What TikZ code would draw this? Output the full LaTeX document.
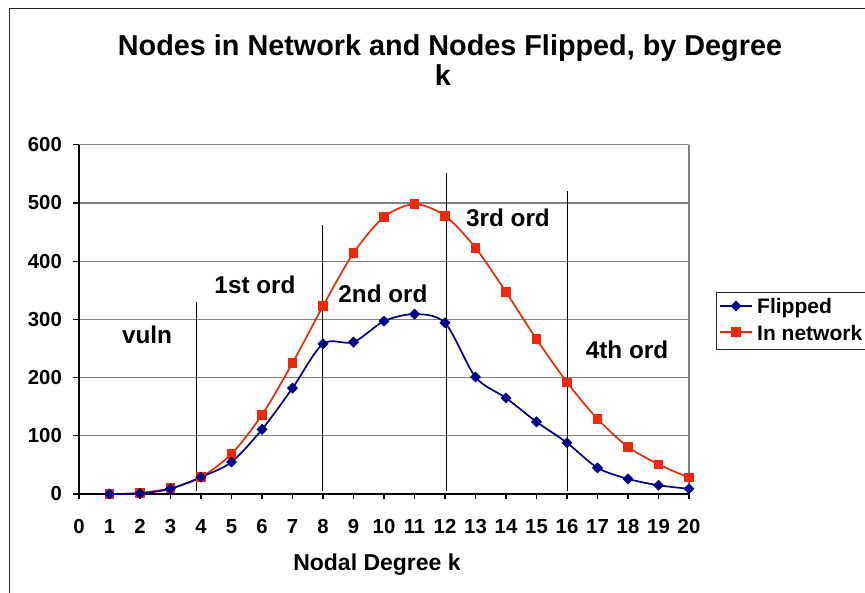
\documentclass[tikz,border=0pt]{standalone}
\usepackage{fontspec}
\setmainfont{Liberation Sans}
\usetikzlibrary{shapes.geometric}
\definecolor{serblue}{RGB}{0,0,140}
\definecolor{serred}{RGB}{240,40,10}
\definecolor{gridgray}{RGB}{128,128,128}
\tikzset{
  gridline/.style={draw=gridgray, line width=1.3pt},
  axisline/.style={draw=black, line width=1.1pt},
  divline/.style={draw=black, line width=1pt},
  ticklab/.style={font=\fontsize{20.3}{24}\selectfont\bfseries, inner sep=0},
  regionlab/.style={font=\fontsize{24.3}{28}\selectfont\bfseries, inner sep=0, anchor=base},
  axistitle/.style={font=\fontsize{23}{27}\selectfont\bfseries, inner sep=0, anchor=base},
  titlelab/.style={font=\fontsize{28.8}{32}\selectfont\bfseries, inner sep=0, anchor=base},
  legendtext/.style={font=\fontsize{21}{25}\selectfont\bfseries, inner sep=0, anchor=base west},
  bluemark/.style={diamond, fill=serblue, draw=serblue, minimum size=10.5pt, inner sep=0},
  redmark/.style={rectangle, fill=serred, minimum size=9.5pt, inner sep=0},
  blueline/.style={draw=serblue, line width=1.7pt},
  redline/.style={draw=serred, line width=1.7pt},
}
\begin{document}
\begin{tikzpicture}[x=1pt,y=-1pt]
\useasboundingbox (0,0) rectangle (865,592);
\fill[white] (0,0) rectangle (865,592);
% outer chart border
\draw[line width=1.5pt, draw=black!85] (9.5,700) -- (9.5,8.5) -- (900,8.5);
% title
\node[titlelab] (title1) at (450,55) {Nodes in Network and Nodes Flipped, by Degree};
\node[titlelab] (title2) at (443,85) {k};
% gridlines
\foreach \v in {100,200,...,600}
  \draw[gridline] (79,{494-0.582*\v}) -- (689,{494-0.582*\v});
\draw[gridline] (689,145) -- (689,494);
% axes
\draw[axisline] (79,145) -- (79,494) -- (689,494);
\foreach \v in {0,100,...,600} {
  \draw[axisline] (73,{494-0.582*\v}) -- (79,{494-0.582*\v});
  \node[ticklab, anchor=east] (yl\v) at (62,{494-0.582*\v}) {\v};
}
\foreach \k in {0,...,20} {
  \draw[axisline] ({79+30.5*\k},494) -- ({79+30.5*\k},499);
  \node[ticklab, anchor=base] (xl\k) at ({79+30.5*\k},533) {\k};
}
\node[axistitle] (xtitle) at (377,570) {Nodal Degree k};
% division lines
\draw[divline] (196,302) -- (196,491);
\draw[divline] (322,225) -- (322,491);
\draw[divline] (446,173) -- (446,491);
\draw[divline] (567,191) -- (567,491);
% region labels
\node[regionlab] (vuln) at (147,343) {vuln};
\node[regionlab] (ord1) at (255,293) {1st ord};
\node[regionlab] (ord2) at (383,302) {2nd ord};
\node[regionlab] (ord3) at (508,226) {3rd ord};
\node[regionlab] (ord4) at (627,358) {4th ord};
% data
\begin{scope}[shift={(79,494)}, x=30.5pt, y=0.582pt]
  \draw[redline] plot[smooth, tension=0.5] coordinates {(1,0) (2,2) (3,10) (4,29) (5,69) (6,136) (7,225) (8,323) (9,414) (10,476) (11,498) (12,478) (13,423) (14,347) (15,266) (16,192) (17,129) (18,81) (19,51) (20,28)};
  \draw[blueline] plot[smooth, tension=0.5] coordinates {(1,0) (2,1) (3,9) (4,29) (5,55) (6,111) (7,182) (8,258) (9,261) (10,297) (11,309) (12,294) (13,201) (14,165) (15,124) (16,88) (17,45) (18,26) (19,15) (20,9)};
  \foreach \k/\v in {1/0,2/2,3/10,4/29,5/69,6/136,7/225,8/323,9/414,10/476,11/498,12/478,13/423,14/347,15/266,16/192,17/129,18/81,19/51,20/28}
    \node[redmark] (n\k) at (\k,\v) {};
  \foreach \k/\v in {1/0,2/1,3/9,4/29,5/55,6/111,7/182,8/258,9/261,10/297,11/309,12/294,13/201,14/165,15/124,16/88,17/45,18/26,19/15,20/9}
    \node[bluemark] (f\k) at (\k,\v) {};
\end{scope}
% legend
\draw[line width=1pt, draw=black!85] (716,292) rectangle (890,349);
\draw[blueline] (720,306) -- (752,306);
\node[bluemark] (lgf) at (736,306) {};
\node[legendtext] (lgftext) at (757,313) {Flipped};
\draw[redline] (720,332) -- (752,332);
\node[redmark] (lgn) at (736,332) {};
\node[legendtext] (lgntext) at (757,340) {In network};
\end{tikzpicture}
\end{document}
